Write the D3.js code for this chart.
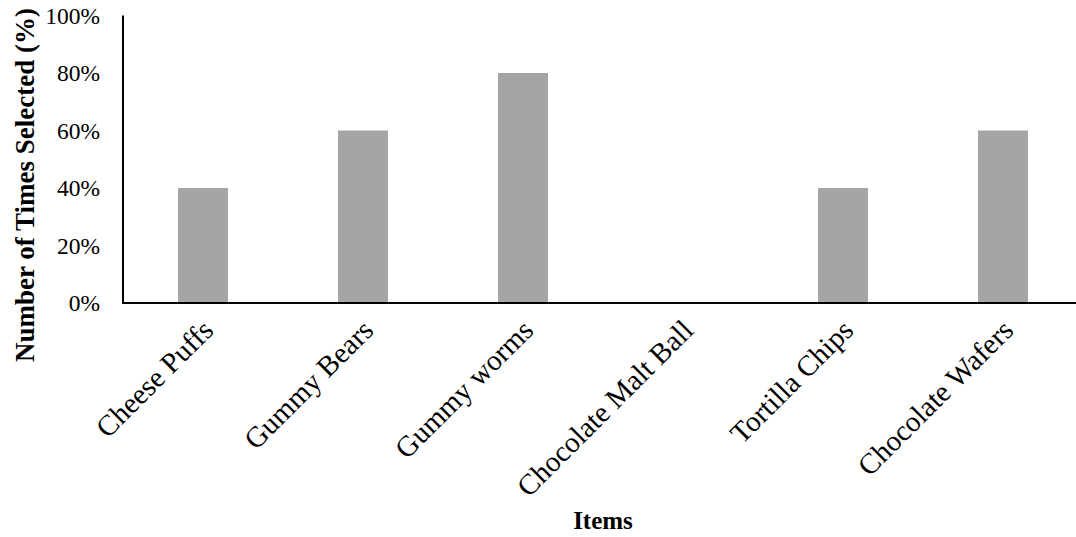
<!DOCTYPE html>
<html>
<head>
<meta charset="utf-8">
<script src="https://cdn.jsdelivr.net/npm/d3@7"></script>
<style>
  html, body { margin: 0; padding: 0; background: #fff; }
  svg { display: block; }
</style>
</head>
<body>
<svg id="chart" width="1076" height="537"></svg>
<script>
// Share of trials in which each snack item was selected
const items = ["Cheese Puffs", "Gummy Bears", "Gummy worms", "Chocolate Malt Ball", "Tortilla Chips", "Chocolate Wafers"];
const selected = [0.4, 0.6, 0.8, 0, 0.4, 0.6];
const yTicks = [0, 0.2, 0.4, 0.6, 0.8, 1.0];

const svg = d3.select("#chart");
const font = "'Liberation Serif', 'Times New Roman', serif";

const plotLeft = 123, plotTop = 15.5, plotBottom = 303;
const x = d3.scaleBand()
  .domain(items)
  .range([plotLeft, plotLeft + 960])
  .paddingInner(0.6875)
  .paddingOuter(0.34375);

const y = d3.scaleLinear().domain([0, 1]).range([plotBottom, plotTop]);

// Bars
svg.append("g")
  .selectAll("rect")
  .data(items.map((d, i) => ({ item: d, v: selected[i] })))
  .join("rect")
  .attr("x", d => x(d.item))
  .attr("y", d => y(d.v))
  .attr("width", x.bandwidth())
  .attr("height", d => y(0) - y(d.v))
  .attr("fill", "#a5a5a5");

// Y axis labels
const yAxis = d3.axisLeft(y)
  .tickValues(yTicks)
  .tickFormat(d3.format(".0%"))
  .tickSize(0)
  .tickPadding(23);
const gy = svg.append("g").attr("transform", `translate(${plotLeft},0)`).call(yAxis);
gy.select(".domain").remove();
gy.selectAll("text")
  .attr("font-family", font)
  .attr("font-size", 23.5)
  .attr("fill", "#000");

// Axis lines
svg.append("line")
  .attr("x1", plotLeft).attr("x2", plotLeft)
  .attr("y1", y(1)).attr("y2", y(0))
  .attr("stroke", "#000").attr("stroke-width", 2);
svg.append("line")
  .attr("x1", plotLeft - 1).attr("x2", plotLeft + 960)
  .attr("y1", y(0)).attr("y2", y(0))
  .attr("stroke", "#000").attr("stroke-width", 2);

// Category labels, rotated
svg.append("g")
  .selectAll("text")
  .data(items)
  .join("text")
  .attr("transform", d => `translate(${x(d) + x.bandwidth() / 2 + 12},${plotBottom + 29}) rotate(-45)`)
  .attr("text-anchor", "end")
  .attr("font-family", font)
  .attr("font-size", 29)
  .attr("fill", "#000")
  .text(d => d);

// Axis titles
svg.append("text")
  .attr("x", plotLeft + 480)
  .attr("y", 529)
  .attr("text-anchor", "middle")
  .attr("font-family", font)
  .attr("font-size", 25)
  .attr("font-weight", "bold")
  .text("Items");

svg.append("text")
  .attr("transform", `translate(34,185) rotate(-90)`)
  .attr("text-anchor", "middle")
  .attr("font-family", font)
  .attr("font-size", 27)
  .attr("font-weight", "bold")
  .text("Number of Times Selected (%)");
</script>
</body>
</html>
